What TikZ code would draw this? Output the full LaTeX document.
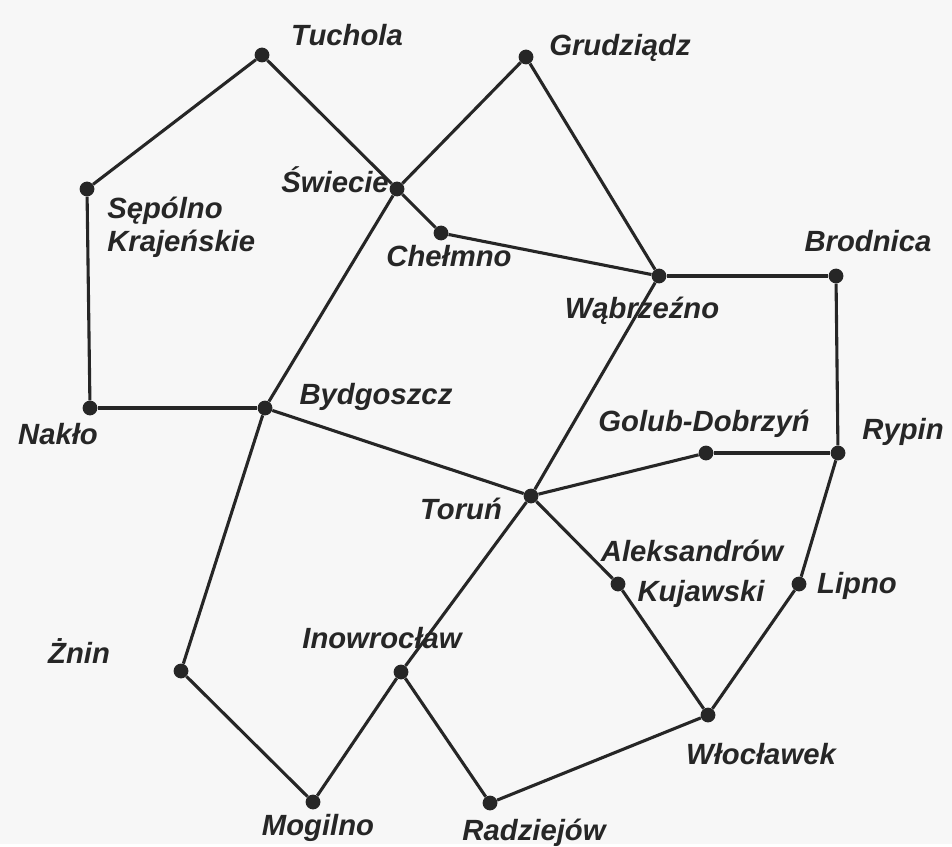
\documentclass[tikz,border=0pt]{standalone}
\usepackage{fontspec}
\setmainfont{Liberation Sans}
\usetikzlibrary{positioning}
\tikzstyle{town}=[circle,fill=black!85,inner sep=0pt,minimum size=0.37cm]
\tikzstyle{lbl}=[font=\fontsize{20.8}{24}\selectfont\bfseries\itshape,text=black!85,inner sep=0pt,anchor=base]
\tikzstyle{road}=[line width=2.2pt,draw=black!85]

\begin{document}
\begin{tikzpicture}[x=0.025cm,y=-0.025cm]
\fill[black!3] (0,0) rectangle (952,844);
% towns
\node[town] (tuch) at (262,55) {};
\node[town] (grud) at (526,57) {};
\node[town] (sepo) at (87,189) {};
\node[town] (swie) at (397,189) {};
\node[town] (chel) at (441,233) {};
\node[town] (wabr) at (659,276) {};
\node[town] (brod) at (836,276) {};
\node[town] (nakl) at (90,408) {};
\node[town] (bydg) at (265,408) {};
\node[town] (golu) at (706,453) {};
\node[town] (rypi) at (838,453) {};
\node[town] (toru) at (531,496) {};
\node[town] (alek) at (618,584) {};
\node[town] (lipn) at (799,584) {};
\node[town] (znin) at (181,671) {};
\node[town] (inow) at (401,672) {};
\node[town] (wloc) at (708,715) {};
\node[town] (mogi) at (313,802) {};
\node[town] (radz) at (490,803) {};
% names
\node[lbl] (tuch-l) at (347,46) {Tuchola};
\node[lbl] (grud-l) at (620,56) {Grudziądz};
\node[lbl,anchor=base west] (sepo-l1) at (107,219) {Sępólno};
\node[lbl,anchor=base west] (sepo-l2) at (107,251) {Krajeńskie};
\node[lbl,anchor=base east] (swie-l) at (389,193) {Świecie};
\node[lbl] (chel-l) at (449,267) {Chełmno};
\node[lbl] (wabr-l) at (642,318) {Wąbrzeźno};
\node[lbl] (brod-l) at (868,251) {Brodnica};
\node[lbl] (nakl-l) at (58,444) {Nakło};
\node[lbl] (bydg-l) at (376,404) {Bydgoszcz};
\node[lbl] (golu-l) at (704,431) {Golub-Dobrzyń};
\node[lbl] (rypi-l) at (903,439) {Rypin};
\node[lbl] (toru-l) at (461,519) {Toruń};
\node[lbl] (alek-l1) at (692,561) {Aleksandrów};
\node[lbl] (alek-l2) at (701,601) {Kujawski};
\node[lbl] (lipn-l) at (857,593) {Lipno};
\node[lbl] (znin-l) at (79,663) {Żnin};
\node[lbl] (inow-l) at (382,648) {Inowrocław};
\node[lbl] (wloc-l) at (761,764) {Włocławek};
\node[lbl] (mogi-l) at (318,835) {Mogilno};
\node[lbl] (radz-l) at (534,840) {Radziejów};
% roads
\draw[road] (tuch) -- (sepo);
\draw[road] (tuch) -- (swie);
\draw[road] (swie) -- (chel);
\draw[road] (sepo) -- (nakl);
\draw[road] (nakl) -- (bydg);
\draw[road] (grud) -- (swie);
\draw[road] (grud) -- (wabr);
\draw[road] (chel) -- (wabr);
\draw[road] (wabr) -- (brod);
\draw[road] (brod) -- (rypi);
\draw[road] (swie) -- (bydg);
\draw[road] (bydg) -- (toru);
\draw[road] (bydg) -- (znin);
\draw[road] (wabr) -- (toru);
\draw[road] (toru) -- (golu);
\draw[road] (golu) -- (rypi);
\draw[road] (rypi) -- (lipn);
\draw[road] (lipn) -- (wloc);
\draw[road] (toru) -- (alek);
\draw[road] (alek) -- (wloc);
\draw[road] (toru) -- (inow);
\draw[road] (inow) -- (mogi);
\draw[road] (inow) -- (radz);
\draw[road] (radz) -- (wloc);
\draw[road] (znin) -- (mogi);
\end{tikzpicture}
\end{document}
